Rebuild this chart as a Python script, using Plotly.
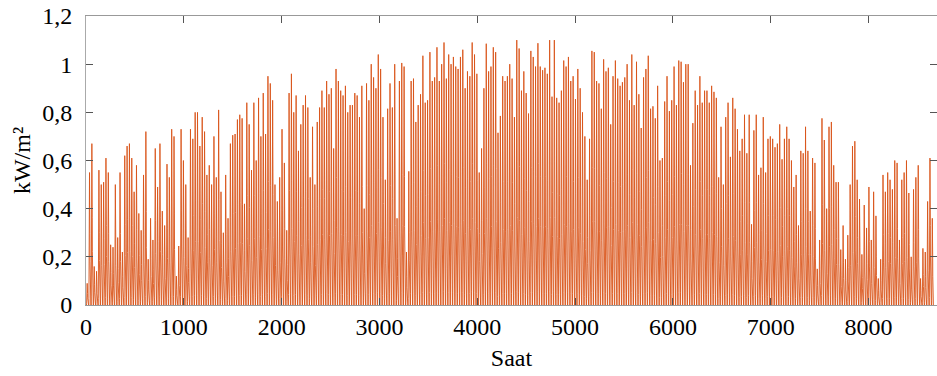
import plotly.graph_objects as go

# Daily peak irradiance (kW/m²), one value per day
daily_peak = [
    # days 1-34
    0.09, 0.55, 0.67, 0.16, 0.14, 0.56, 0.50, 0.51, 0.61, 0.55, 0.25, 0.24, 0.50, 0.28, 0.55, 0.22, 0.62,
    0.66, 0.67, 0.61, 0.47, 0.58, 0.38, 0.31, 0.54, 0.72, 0.19, 0.36, 0.27, 0.65, 0.49, 0.67, 0.39, 0.33,
    # days 35-68
    0.585, 0.53, 0.73, 0.70, 0.12, 0.245, 0.73, 0.60, 0.50, 0.28, 0.73, 0.69, 0.80, 0.80, 0.66, 0.78, 0.72,
    0.54, 0.58, 0.50, 0.70, 0.53, 0.81, 0.47, 0.30, 0.54, 0.36, 0.67, 0.705, 0.71, 0.77, 0.79, 0.775, 0.42,
    # days 69-102
    0.84, 0.75, 0.56, 0.84, 0.60, 0.86, 0.70, 0.88, 0.71, 0.95, 0.92, 0.85, 0.50, 0.43, 0.53, 0.73, 0.59,
    0.31, 0.88, 0.96, 0.80, 0.87, 0.64, 0.75, 0.83, 0.87, 0.82, 0.53, 0.74, 0.50, 0.76, 0.82, 0.89, 0.82,
    # days 103-136
    0.93, 0.875, 0.90, 0.65, 0.98, 0.93, 0.89, 0.87, 0.91, 0.80, 0.83, 0.83, 0.88, 0.87, 0.78, 0.91, 0.40,
    0.92, 0.85, 1.00, 0.945, 0.90, 1.04, 0.98, 0.78, 0.52, 0.815, 0.92, 0.82, 1.00, 0.36, 0.93, 1.005, 0.99,
    # days 137-170
    0.22, 0.555, 0.93, 0.94, 0.76, 0.83, 0.875, 1.035, 0.84, 0.85, 1.05, 0.93, 0.945, 1.07, 0.93, 1.00, 1.09,
    0.94, 1.04, 1.00, 1.03, 0.99, 0.98, 1.03, 1.06, 0.90, 0.97, 0.95, 1.09, 1.04, 0.96, 0.55, 0.65, 0.90,
    # days 171-204
    1.085, 0.97, 0.99, 1.07, 1.05, 0.715, 0.785, 0.95, 0.93, 0.95, 1.00, 0.94, 0.78, 1.10, 1.065, 0.89, 0.97,
    0.88, 0.795, 1.055, 1.03, 0.99, 1.087, 0.99, 0.975, 0.985, 0.96, 1.10, 0.865, 1.10, 0.86, 0.84, 0.89, 1.015,
    # days 205-238
    0.99, 1.03, 0.93, 0.95, 0.855, 0.98, 0.90, 0.80, 0.70, 0.52, 0.69, 1.055, 1.05, 0.93, 0.92, 0.815, 1.02,
    0.97, 0.985, 0.75, 0.95, 1.015, 0.94, 0.91, 0.925, 0.945, 1.00, 0.85, 1.04, 0.83, 1.01, 0.875, 0.735, 0.945,
    # days 239-272
    0.98, 1.035, 0.815, 0.825, 0.775, 0.91, 0.60, 0.61, 0.845, 0.95, 0.805, 0.85, 0.99, 0.83, 1.015, 1.01, 0.925,
    1.00, 1.00, 0.58, 0.755, 0.89, 0.83, 0.95, 0.84, 0.89, 0.89, 0.84, 0.91, 0.885, 0.86, 0.53, 0.74, 0.50,
    # days 273-306
    0.78, 0.84, 0.615, 0.86, 0.815, 0.73, 0.64, 0.69, 0.79, 0.63, 0.79, 0.335, 0.725, 0.79, 0.54, 0.57, 0.78,
    0.55, 0.69, 0.70, 0.69, 0.655, 0.67, 0.75, 0.605, 0.69, 0.74, 0.69, 0.60, 0.49, 0.54, 0.33, 0.64, 0.63,
    # days 307-361
    0.74, 0.64, 0.39, 0.61, 0.59, 0.15, 0.27, 0.775, 0.685, 0.40, 0.74, 0.76, 0.58, 0.51, 0.51, 0.23, 0.33,
    0.19, 0.29, 0.50, 0.66, 0.68, 0.52, 0.44, 0.21, 0.415, 0.32, 0.49, 0.27, 0.47, 0.37, 0.11, 0.19, 0.54,
    0.47, 0.55, 0.52, 0.48, 0.60, 0.59, 0.27, 0.52, 0.55, 0.60, 0.465, 0.20, 0.48, 0.53, 0.58, 0.11, 0.235,
    0.22, 0.43, 0.61, 0.36,
]

# Typical relative shape of a day (hours 0-23)
hour_profile = [0, 0, 0, 0, 0, 0, 0.05, 0.22, 0.42, 0.62, 0.80, 0.93, 1.0, 0.97, 0.88, 0.73,
                0.54, 0.33, 0.14, 0.03, 0, 0, 0, 0]

x_ticks = [0, 1000, 2000, 3000, 4000, 5000, 6000, 7000, 8000]
y_ticks = [0, 0.2, 0.4, 0.6, 0.8, 1.0, 1.2]
y_tick_labels = ["0", "0,2", "0,4", "0,6", "0,8", "1", "1,2"]

hours = []
values = []
for d, peak in enumerate(daily_peak):
    for h, f in enumerate(hour_profile):
        hours.append(d * 24 + h)
        values.append(peak * f)

fig = go.Figure(go.Scatter(
    x=hours, y=values, mode="lines",
    line=dict(color="#D95319", width=0.9),
    hoverinfo="skip",
))

font = dict(family="Liberation Serif", size=24, color="#000")

fig.update_layout(
    width=937, height=376,
    margin=dict(l=86, r=0, t=16, b=71),
    paper_bgcolor="white", plot_bgcolor="white",
    showlegend=False,
    font=font,
)
fig.update_xaxes(
    range=[0, 8700], tickvals=x_ticks, ticktext=[str(v) for v in x_ticks],
    ticks="inside", ticklen=7, tickcolor="#555", tickwidth=1,
    showline=True, linecolor="#999", linewidth=1, mirror="ticks",
    showgrid=False, zeroline=False, automargin=False,
    title=dict(text="Saat", font=font, standoff=10),
    tickfont=font,
)
fig.update_yaxes(
    range=[0, 1.2], tickvals=y_ticks, ticktext=y_tick_labels,
    ticks="inside", ticklen=7, tickcolor="#555", tickwidth=1,
    showline=True, linecolor="#aaa", linewidth=1, mirror="ticks",
    showgrid=False, zeroline=False, automargin=False,
    ticklabelstandoff=8,
    title=dict(text="kW/m²", font=font, standoff=4),
    tickfont=font,
)

fig.write_html("out.html", config={"displayModeBar": False},
               post_script="document.body.style.margin='0';")
